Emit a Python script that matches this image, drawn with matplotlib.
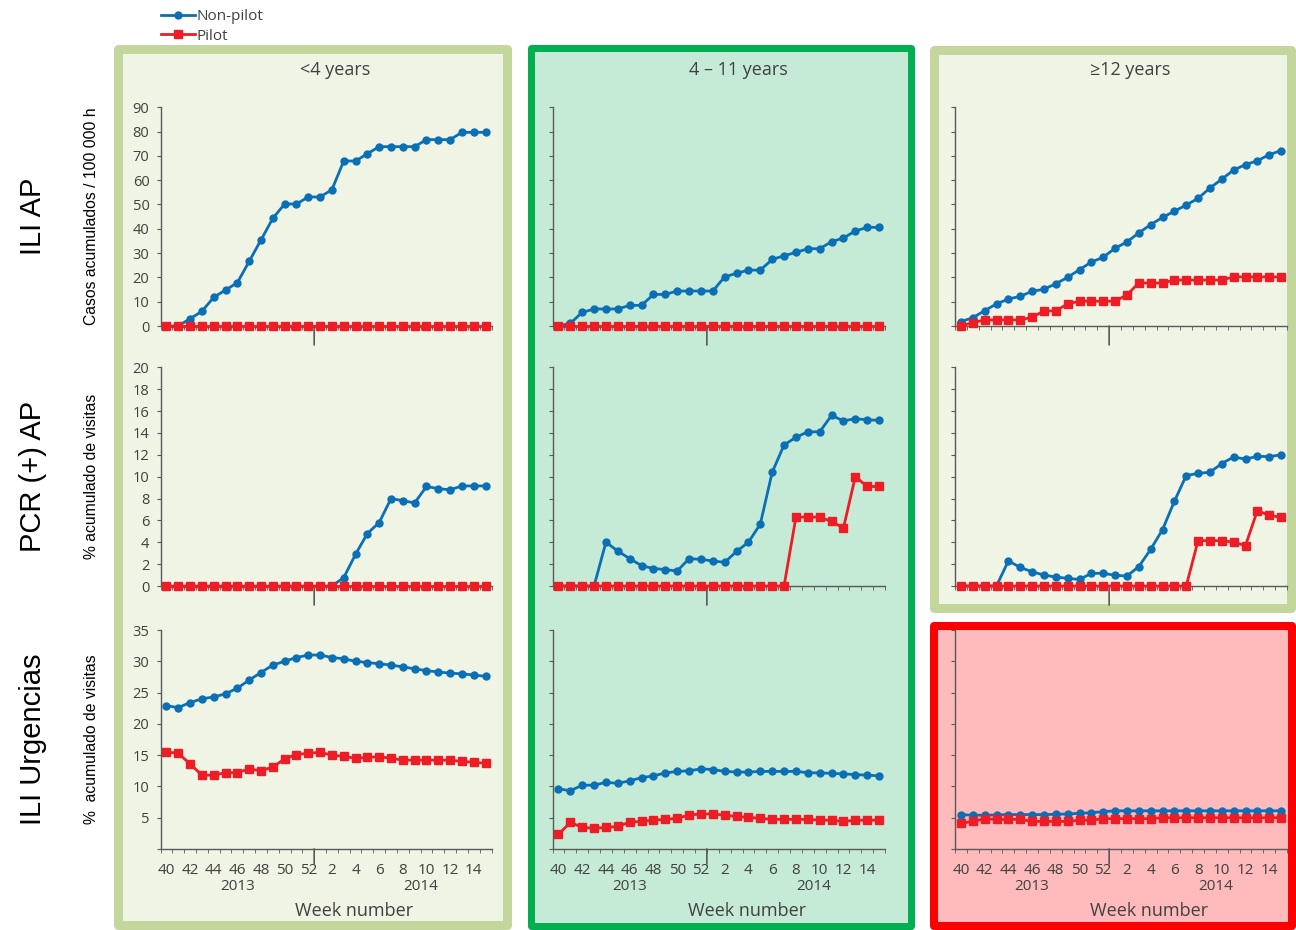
import numpy as np
import matplotlib
matplotlib.use("Agg")
import matplotlib.pyplot as plt
from matplotlib.patches import Rectangle
from matplotlib.lines import Line2D

# weeks 40-52 of 2013 and 1-15 of 2014
weeks = list(range(40, 53)) + list(range(1, 16))

# ILI AP  (casos acumulados / 100 000 h)
ili_ap_lt4_np = [0, 0, 3.0, 6.0, 11.8, 14.8, 17.8, 26.6, 35.4, 44.3, 50.2, 50.2, 53.1, 53.1,
                 56.1, 67.9, 67.9, 70.9, 73.8, 73.8, 73.8, 73.8, 76.7, 76.7, 76.7, 79.7, 79.7, 79.7]
ili_ap_lt4_p = [0] * 28
ili_ap_4_11_np = [0, 1.1, 5.6, 7.0, 7.0, 7.0, 8.5, 8.5, 13.0, 13.0, 14.4, 14.4, 14.4, 14.4,
                  20.2, 21.7, 23.0, 23.0, 27.4, 28.9, 30.3, 31.8, 31.8, 34.7, 36.2, 39.1, 40.6, 40.6]
ili_ap_4_11_p = [0] * 28
ili_ap_ge12_np = [1.8, 3.4, 6.3, 9.1, 11.1, 12.2, 14.3, 15.1, 17.4, 20.0, 23.2, 26.3, 28.3, 32.0,
                  34.6, 38.3, 41.7, 44.7, 47.2, 49.8, 52.5, 56.8, 60.4, 64.2, 66.4, 68.0, 70.5, 72.2]
ili_ap_ge12_p = [0, 1.4, 2.5, 2.5, 2.5, 2.5, 3.6, 6.2, 6.2, 9.1, 10.2, 10.2, 10.2, 10.2,
                 12.8, 17.7, 17.7, 17.7, 18.9, 18.9, 18.9, 18.9, 18.9, 20.2, 20.2, 20.2, 20.2, 20.2]

# PCR (+) AP  (% acumulado de visitas)
pcr_lt4_np = [0] * 15 + [0.76, 2.9, 4.8, 5.8, 8.0, 7.8, 7.6, 9.1, 8.9, 8.8, 9.15, 9.15, 9.15]
pcr_lt4_p = [0] * 28
pcr_4_11_np = [0, 0, 0, 0, 4.0, 3.2, 2.5, 1.86, 1.6, 1.5, 1.37, 2.5, 2.44, 2.29,
               2.16, 3.17, 4.0, 5.67, 10.4, 12.9, 13.6, 14.1, 14.1, 15.6, 15.1, 15.3, 15.2, 15.15]
pcr_4_11_p = [0] * 20 + [6.3, 6.3, 6.3, 5.9, 5.3, 10.0, 9.1, 9.1]
pcr_ge12_np = [0, 0, 0, 0, 2.3, 1.7, 1.3, 1.0, 0.82, 0.7, 0.6, 1.16, 1.16, 0.98,
               0.91, 1.77, 3.35, 5.15, 7.74, 10.1, 10.3, 10.4, 11.2, 11.8, 11.6, 11.86, 11.83, 12.0]
pcr_ge12_p = [0] * 20 + [4.15, 4.15, 4.15, 4.0, 3.7, 6.9, 6.46, 6.28]

# ILI Urgencias  (% acumulado de visitas)
urg_lt4_np = [22.9, 22.6, 23.4, 24.0, 24.3, 24.8, 25.7, 27.0, 28.2, 29.4, 30.0, 30.6, 31.0, 31.0,
              30.6, 30.4, 30.0, 29.8, 29.6, 29.4, 29.1, 28.8, 28.5, 28.3, 28.1, 28.0, 27.8, 27.6]
urg_lt4_p = [15.5, 15.3, 13.6, 11.8, 11.8, 12.2, 12.2, 12.8, 12.5, 13.1, 14.4, 15.1, 15.3, 15.45,
             15.0, 14.8, 14.5, 14.65, 14.75, 14.5, 14.2, 14.2, 14.2, 14.2, 14.2, 14.0, 13.85, 13.7]
urg_4_11_np = [9.64, 9.3, 10.2, 10.2, 10.65, 10.5, 10.9, 11.4, 11.7, 12.15, 12.4, 12.5, 12.8, 12.7,
               12.4, 12.3, 12.3, 12.4, 12.4, 12.4, 12.4, 12.2, 12.15, 12.1, 12.0, 11.9, 11.8, 11.7]
urg_4_11_p = [2.34, 4.26, 3.46, 3.3, 3.46, 3.6, 4.3, 4.4, 4.6, 4.74, 4.9, 5.43, 5.6, 5.6,
              5.4, 5.2, 5.06, 4.9, 4.74, 4.74, 4.74, 4.74, 4.6, 4.6, 4.4, 4.6, 4.6, 4.6]
urg_ge12_np = [5.5, 5.4, 5.4, 5.45, 5.5, 5.5, 5.5, 5.5, 5.55, 5.6, 5.7, 5.8, 5.97, 6.1,
               6.1, 6.1, 6.1, 6.1, 6.1, 6.1, 6.1, 6.1, 6.1, 6.1, 6.1, 6.1, 6.1, 6.1]
urg_ge12_p = [4.1, 4.4, 4.85, 4.74, 4.74, 4.74, 4.4, 4.4, 4.4, 4.4, 4.6, 4.6, 4.85, 4.85,
              4.85, 4.85, 4.85, 5.0, 5.0, 5.0, 5.0, 5.0, 5.0, 5.0, 5.0, 5.0, 5.0, 5.0]

row_names = ["ILI AP", "PCR (+) AP", "ILI Urgencias"]
row_ylabels = ["Casos acumulados / 100 000 h", "% acumulado de visitas", "%  acumulado de visitas"]
col_titles = ["<4 years", "4 \u2013 11 years", "\u226512 years"]
year_labels = ["2013", "2014"]

data = [
    [(ili_ap_lt4_np, ili_ap_lt4_p), (ili_ap_4_11_np, ili_ap_4_11_p), (ili_ap_ge12_np, ili_ap_ge12_p)],
    [(pcr_lt4_np, pcr_lt4_p), (pcr_4_11_np, pcr_4_11_p), (pcr_ge12_np, pcr_ge12_p)],
    [(urg_lt4_np, urg_lt4_p), (urg_4_11_np, urg_4_11_p), (urg_ge12_np, urg_ge12_p)],
]
ylims = [90, 20, 35]
ysteps = [10, 2, 5]

BLUE = "#0a6fb5"
RED = "#ee1c25"
TXT = "#404040"
AX = "#595959"

W, H = 1296, 930
fig = plt.figure(figsize=(W / 100, H / 100), dpi=100)
fig.patch.set_facecolor("white")
plt.rcParams["font.family"] = ["Open Sans", "DejaVu Sans"]


def box(x0, y0, x1, y1, lw_px, ec, fc):
    # pixel box (outer edges), border drawn centred on the path
    h = lw_px / 2
    r = Rectangle(((x0 + h) / W, 1 - (y1 - h) / H), (x1 - x0 - lw_px) / W, (y1 - y0 - lw_px) / H,
                  transform=fig.transFigure, facecolor=fc, edgecolor=ec,
                  linewidth=lw_px * 0.72, joinstyle="round", zorder=0)
    fig.add_artist(r)


# background panels
box(113, 45, 511, 929, 9, "#c3d69b", "#eff4e5")
box(527, 45, 914, 929, 7, "#00b050", "#c5ebd6")
box(930, 45, 1296, 612, 9, "#c3d69b", "#eff4e5")
box(930, 622, 1296, 930, 8, "#ff0000", "#ffbbbb")

col_x = [(160.5, 491.5), (552.5, 885), (955, 1287)]
row_y = [(107.3, 326), (367.3, 586), (630, 849)]
title_x = [335, 738, 1130]
xlabel_x = [354, 747, 1149]
n = len(weeks)
x = np.arange(n)

for r in range(3):
    for c in range(3):
        x0, x1 = col_x[c]
        y0, y1 = row_y[r]
        ax = fig.add_axes([x0 / W, 1 - y1 / H, (x1 - x0) / W, (y1 - y0) / H])
        ax.patch.set_alpha(0)
        npv, pv = data[r][c]
        ax.plot(x, npv, color=BLUE, lw=2.0, marker="o", ms=5, clip_on=False, zorder=3)
        ax.plot(x, pv, color=RED, lw=2.0, marker="s", ms=5.5, clip_on=False, zorder=4)
        ax.set_xlim(-0.5, n - 0.5)
        ax.set_ylim(0, ylims[r])
        for s in ["top", "right"]:
            ax.spines[s].set_visible(False)
        for s in ["left", "bottom"]:
            ax.spines[s].set_color(AX)
            ax.spines[s].set_linewidth(1.0)
        yt = np.arange(0, ylims[r] + 0.1, ysteps[r])
        ax.set_yticks(yt)
        if c == 0:
            labs = [f"{v:g}" for v in yt]
            if r == 2:
                labs[0] = ""
            ax.set_yticklabels(labs)
        else:
            ax.set_yticklabels([])
        ax.tick_params(axis="y", length=3, color=AX, labelcolor=TXT, labelsize=10.5, pad=5)
        # category boundary ticks
        ax.set_xticks(np.arange(-0.5, n, 1.0), minor=True)
        ax.tick_params(axis="x", which="minor", length=3, color=AX)
        if r == 2:
            ax.set_xticks(x[::2])
            ax.set_xticklabels([str(w) for w in weeks[::2]])
            ax.tick_params(axis="x", which="major", length=0, labelsize=11,
                           labelcolor=TXT, pad=10)
            ax.text(6, -0.17, year_labels[0], transform=ax.get_xaxis_transform(),
                    ha="center", va="center", fontsize=11, color=TXT)
            ax.text(21.5, -0.17, year_labels[1], transform=ax.get_xaxis_transform(),
                    ha="center", va="center", fontsize=11, color=TXT)
            fig.text(xlabel_x[c] / W, 1 - 911 / H, "Week number", ha="center", va="center",
                     fontsize=13, color=TXT)
            sep_len = 15
        else:
            ax.set_xticks([])
            sep_len = 19
        # separator between 2013 and 2014
        ax.annotate("", xy=(12.5, 0), xycoords=("data", "axes fraction"),
                    xytext=(0, -sep_len), textcoords="offset pixels",
                    arrowprops=dict(arrowstyle="-", color=AX, lw=1.2, shrinkA=0, shrinkB=0))
        if r == 0:
            fig.text(title_x[c] / W, 1 - 70 / H, col_titles[c], ha="center", va="center",
                     fontsize=13, color=TXT)
        if c == 0:
            fig.text(91 / W, 1 - (y0 + y1) / 2 / H, row_ylabels[r], rotation=90,
                     ha="center", va="center", fontsize=11.3, color="black",
                     family=["Liberation Sans Narrow", "Liberation Sans", "DejaVu Sans"])
            fig.text(33 / W, 1 - (y0 + y1) / 2 / H, row_names[r], rotation=90,
                     ha="center", va="center", fontsize=21, color="black",
                     family=["Liberation Sans", "DejaVu Sans"])

handles = [Line2D([], [], color=BLUE, lw=2.0, marker="o", ms=5),
           Line2D([], [], color=RED, lw=2.0, marker="s", ms=5.5)]
fig.legend(handles, ["Non-pilot", "Pilot"], loc="upper left",
           bbox_to_anchor=(155 / W, 1 - 3 / H), frameon=False, fontsize=11,
           labelcolor=TXT, handlelength=2.2, handletextpad=0.1, labelspacing=0.3,
           borderaxespad=0)

fig.savefig("out.png", dpi=100)
